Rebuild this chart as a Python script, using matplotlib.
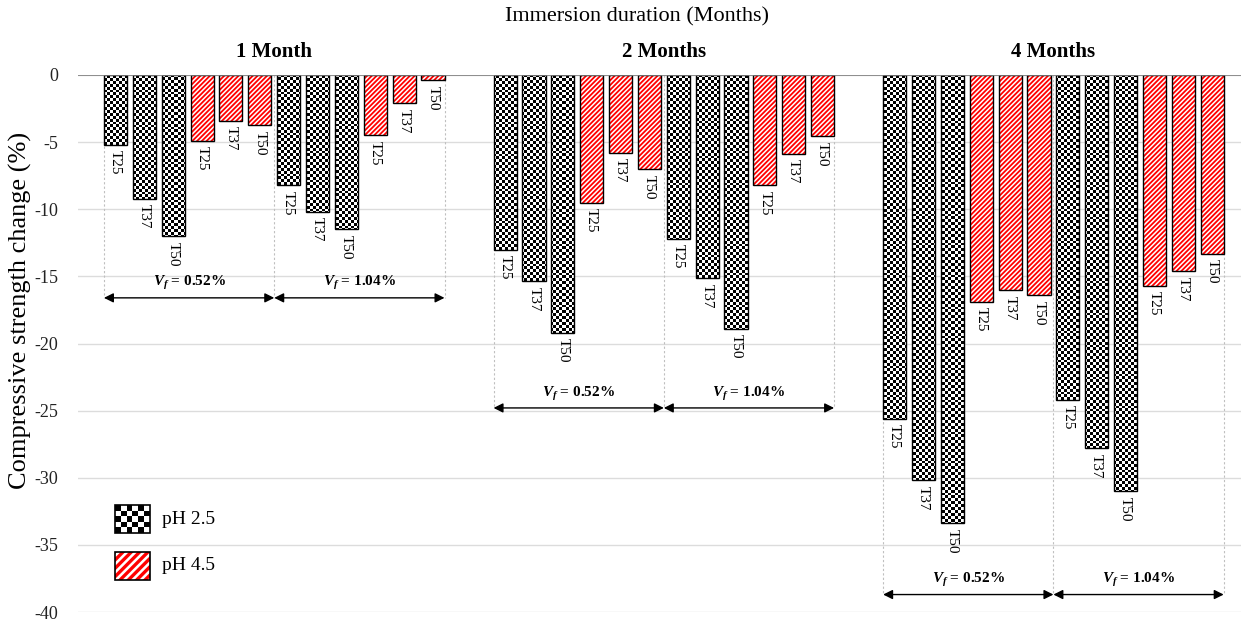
import numpy as np
import matplotlib
matplotlib.use("Agg")
import matplotlib.pyplot as plt
from matplotlib.patches import Rectangle

plt.rcParams['font.family'] = ['Liberation Serif', 'DejaVu Serif']
plt.rcParams['axes.unicode_minus'] = False
plt.rcParams['mathtext.fontset'] = 'custom'
plt.rcParams['mathtext.rm'] = 'Liberation Serif:bold'
plt.rcParams['mathtext.it'] = 'Liberation Serif:italic:bold'
plt.rcParams['mathtext.bf'] = 'Liberation Serif:bold'
plt.rcParams['hatch.linewidth'] = 1.3

# ---------------- data ----------------
months = ["1 Month", "2 Months", "4 Months"]
vf_labels = [r"$V_f$ = 0.52%", r"$V_f$ = 1.04%"]
temps = ["T25", "T37", "T50"]
# compressive strength change (%) per month, per temperature
ph25_vf052 = [[-5.2, -9.2, -12.0], [-13.0, -15.35, -19.2], [-25.6, -30.2, -33.4]]
ph45_vf052 = [[-4.9, -3.4, -3.75], [-9.5, -5.8, -7.0], [-16.9, -16.05, -16.4]]
ph25_vf104 = [[-8.2, -10.2, -11.5], [-12.2, -15.15, -18.9], [-24.2, -27.8, -31.0]]
ph45_vf104 = [[-4.5, -2.1, -0.4], [-8.2, -5.85, -4.55], [-15.7, -14.6, -13.3]]
arrow_y = [-16.6, -24.8, -38.7]
yticks = [0, -5, -10, -15, -20, -25, -30, -35, -40]
legend_labels = ["pH 2.5", "pH 4.5"]

# ---------------- figure ----------------
W, H = 1241, 624
fig = plt.figure(figsize=(W / 100, H / 100), dpi=100)
ax_l, ax_b, ax_r, ax_t = 78, 12, 1241, 549  # pixels (bottom-based)
ax = fig.add_axes([ax_l / W, ax_b / H, (ax_r - ax_l) / W, (ax_t - ax_b) / H])
XL = (-1.3, 39.0)
YL = (-40, 0)

group_gap = 13.5
bar_w = 0.8

# checker texture (approx 3 px cells)
nx = int(round((ax_r - ax_l) / 2.9))
ny = int(round((ax_t - ax_b) / 2.9))
checker = (np.add.outer(np.arange(ny), np.arange(nx)) % 2).astype(float)

red = "#ff0000"

def checker_bar(x, v):
    b = ax.bar(x, v, width=bar_w, facecolor="white", edgecolor="none", zorder=2)[0]
    im = ax.imshow(checker, cmap="gray", vmin=0, vmax=1, extent=(XL[0], XL[1], YL[0], YL[1]),
                   aspect="auto", interpolation="nearest", zorder=2.5)
    im.set_clip_path(b)
    ax.bar(x, v, width=bar_w, facecolor="none", edgecolor="black", linewidth=1.0, zorder=3)

def hatch_bar(x, v):
    ax.bar(x, v, width=bar_w, facecolor="white", edgecolor=red, linewidth=0,
           hatch="/" * 7, zorder=2)
    ax.bar(x, v, width=bar_w, facecolor="none", edgecolor="black", linewidth=1.0, zorder=3)

def label(x, v, t):
    ax.annotate(t, xy=(x, v), xytext=(0, -4), textcoords="offset points",
                rotation=270, ha="center", va="top", fontsize=11, zorder=4)

for g in range(3):
    subsets = [(ph25_vf052[g], ph45_vf052[g]), (ph25_vf104[g], ph45_vf104[g])]
    for s, (a25, a45) in enumerate(subsets):
        base = g * group_gap + s * 6
        for j in range(3):
            checker_bar(base + j, a25[j])
            label(base + j, a25[j], temps[j])
        for j in range(3):
            hatch_bar(base + 3 + j, a45[j])
            label(base + 3 + j, a45[j], temps[j])
    # dashed separators and arrows
    x0 = g * group_gap - bar_w / 2
    xm = g * group_gap + 5.5
    x1 = g * group_gap + 11 + bar_w / 2
    for xv in (x0, xm, x1):
        ax.plot([xv, xv], [0, arrow_y[g]], color="#bfbfbf", lw=0.8, ls=(0, (2, 2)), zorder=1)
    for (xa, xb), lab in zip([(x0, xm), (xm, x1)], vf_labels):
        ax.annotate("", xy=(xa, arrow_y[g]), xytext=(xb, arrow_y[g]),
                    arrowprops=dict(arrowstyle="<|-|>", color="black", lw=1.0,
                                    mutation_scale=14, shrinkA=0, shrinkB=0), zorder=4)
        ax.text((xa + xb) / 2, arrow_y[g] + 0.4, lab, ha="center", va="bottom",
                fontsize=11, fontweight="bold", zorder=4)
    ax.text(g * group_gap + 5.5, 1.0, months[g], ha="center", va="bottom",
            fontsize=15, fontweight="bold")

ax.set_xlim(*XL)
ax.set_ylim(*YL)
ax.set_yticks(yticks)
ax.set_yticklabels([str(t) for t in yticks], fontsize=13, color="#222222")
ax.set_xticks([])
ax.tick_params(axis="y", length=0, pad=14)
for sp in ax.spines.values():
    sp.set_visible(False)
ax.yaxis.grid(True, color="#dcdcdc", lw=1.0, zorder=0)
ax.set_axisbelow(True)
ax.axhline(0, color="#808080", lw=1.2, zorder=3.5)

fig.text(20 / W, 1 - 310 / H, "Compressive strength change (%)", rotation=90,
         ha="center", va="center", fontsize=19)
fig.text(637 / W, 1 - 17 / H, "Immersion duration (Months)", ha="center", va="center", fontsize=16)

# legend (manual)
lx0, lw = (115 - ax_l) / (ax_r - ax_l), 35 / (ax_r - ax_l)
lh = 28 / (ax_t - ax_b)
ly = [(612 - 533) / (ax_t - ax_b), (612 - 580) / (ax_t - ax_b)]
legc = (np.add.outer(np.arange(5), np.arange(6)) % 2).astype(float)
ax.imshow(legc, cmap="gray", vmin=0, vmax=1, extent=(lx0, lx0 + lw, ly[0], ly[0] + lh),
          transform=ax.transAxes, aspect="auto", interpolation="nearest", zorder=5)
ax.add_patch(Rectangle((lx0, ly[0]), lw, lh, transform=ax.transAxes, fc="none",
                       ec="black", lw=1.2, zorder=6))
leg_h = Rectangle((lx0, ly[1]), lw, lh, transform=ax.transAxes, fc="white",
                  ec=red, lw=0, hatch="////", zorder=5)
if hasattr(leg_h, "set_hatch_linewidth"):
    leg_h.set_hatch_linewidth(2.4)
ax.add_patch(leg_h)
ax.add_patch(Rectangle((lx0, ly[1]), lw, lh, transform=ax.transAxes, fc="none",
                       ec="black", lw=1.2, zorder=6))
for yy, lab in zip(ly, legend_labels):
    ax.text(lx0 + lw + 0.01, yy + lh / 2, lab, transform=ax.transAxes, ha="left",
            va="center", fontsize=14, zorder=6)

ax.set_xlim(*XL)
ax.set_ylim(*YL)
fig.savefig("out.png", dpi=100)
